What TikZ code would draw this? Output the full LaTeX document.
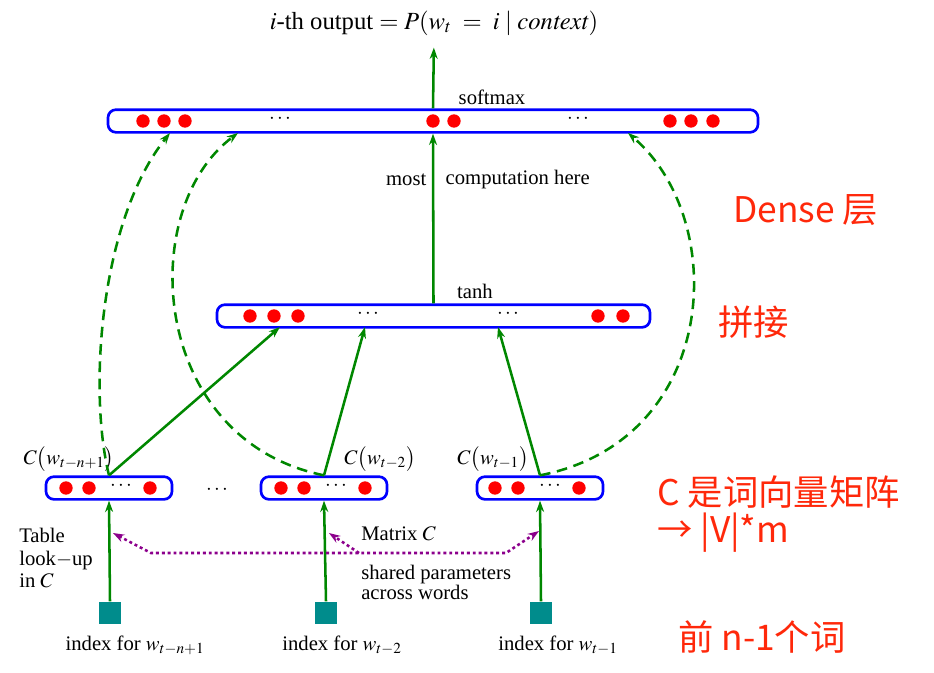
\documentclass[tikz,border=0pt]{standalone}
\usepackage{mathptmx}
\usepackage{fontspec}
\setmainfont{Liberation Serif}
\newfontfamily\cjk{Noto Sans CJK SC}
\usetikzlibrary{arrows.meta, positioning, calc}
\definecolor{layerblue}{RGB}{0,0,255}
\definecolor{linkgreen}{RGB}{0,135,0}
\definecolor{idxteal}{RGB}{0,140,140}
\definecolor{sharedpurple}{RGB}{140,0,140}
\definecolor{notered}{RGB}{255,40,10}

\begin{document}
\begin{tikzpicture}[x=0.75pt,y=-0.75pt,>={Stealth[length=8.5pt,width=6pt]},
    font=\fontsize{15.5}{18}\selectfont,
    layer/.style={draw=layerblue, line width=2pt, rounded corners=6pt,
        minimum height=17pt, inner sep=0pt},
    neuron/.style={circle, fill=red, inner sep=0pt, minimum size=10pt},
    idx/.style={fill=idxteal, inner sep=0pt, minimum size=17pt},
    link/.style={->, draw=linkgreen, line width=1.9pt},
    context/.style={->, draw=linkgreen, line width=1.9pt, dash pattern=on 8pt off 5pt},
    shared/.style={draw=sharedpurple, line width=1.9pt, dash pattern=on 2.2pt off 2.2pt},
    note/.style={text=notered, inner sep=0pt, font=\cjk\fontsize{26.5}{30}\selectfont}]
    \useasboundingbox (0,0) rectangle (934,672);
    % Layers
    \node[layer, minimum width=487.5pt] (out) at (433,121) {};
    \node[layer, minimum width=324.75pt] (hid) at (433.5,316) {};
    \node[layer, minimum width=94.5pt] (e1) at (109,488) {};
    \node[layer, minimum width=94.5pt] (e2) at (324,488) {};
    \node[layer, minimum width=94.5pt] (e3) at (540,488) {};
    % Neurons
    \foreach \x [count=\i] in {143,164,185,433,454,670,691,713}
        \node[neuron] (o\i) at (\x,121) {};
    \node (od1) at (280,119) {$\cdots$};
    \node (od2) at (578,119) {$\cdots$};
    \foreach \x [count=\i] in {250,274,298,598,623}
        \node[neuron] (h\i) at (\x,316) {};
    \node (hd1) at (368,314) {$\cdots$};
    \node (hd2) at (508,314) {$\cdots$};
    \foreach \b/\x in {e1/66, e2/281, e3/495} {
        \node[neuron] (\b n1) at (\x,488) {};
        \node[neuron] (\b n2) at (\x+23,488) {};
        \node (\b d) at (\x+55,486) {$\cdots$};
        \node[neuron] (\b n3) at (\x+84,488) {};
    }
    \node (gap) at (217,490) {$\cdots$};
    % Index squares
    \node[idx] (i1) at (110,613) {};
    \node[idx] (i2) at (326,613) {};
    \node[idx] (i3) at (541,613) {};
    % Labels
    \node[font=\fontsize{18.5}{21}\selectfont, inner sep=1pt] (title) at (434,23)
        {$i$-th output $= P(w_t \;=\; i \mid \mathit{context})$};
    \node at (492,97) {softmax};
    \node at (475,291) {tanh};
    \node[anchor=east] at (431,180) {most};
    \node[anchor=west] at (441,180) {computation here};
    \node at (69,459) {$C\bigl(w_{t-n+1}\bigr)$};
    \node at (380,459) {$C\bigl(w_{t-2}\bigr)$};
    \node at (493,459) {$C\bigl(w_{t-1}\bigr)$};
    \node (l1) at (135,645) {index for $w_{t-n+1}$};
    \node (l2) at (342,645) {index for $w_{t-2}$};
    \node (l3) at (558,645) {index for $w_{t-1}$};
    \node[anchor=west, align=left, inner sep=0pt] at (19,558) {Table\\[-1pt]look$-$up\\[-1pt]in $C$};
    \node[anchor=west, inner sep=0pt] at (361,534) {Matrix $C$};
    \node[anchor=west, align=left, inner sep=0pt] at (361,582) {shared parameters\\[-3pt]across words};
    % Notes
    \node[note, anchor=west] at (733,210) {Dense 层};
    \node[note, anchor=west] at (718,322) {拼接};
    \node[note, anchor=west] at (657,492) {C 是词向量矩阵};
    \node[note, anchor=west] at (657,533) {→ |V|*m};
    \node[note, anchor=west] at (678,637) {前 n-1个词};
    % Coordinates on the layers
    \coordinate (t1) at (280,327);
    \coordinate (t2) at (365,327);
    \coordinate (t3) at (498,327);
    \coordinate (c1) at (170,133);
    \coordinate (c2) at (238,133);
    \coordinate (c3) at (628,133);
    % Connections
    \draw[link, shorten >=8pt] (out.north) -- (title.south);
    \draw[link] (hid.north) -- (out.south);
    \draw[link] (e1.north) -- (t1);
    \draw[link] (e2.north) -- (t2);
    \draw[link] (e3.north) -- (t3);
    \draw[link] (i1.north) -- (e1.south);
    \draw[link] (i2.north) -- (e2.south);
    \draw[link] (i3.north) -- (e3.south);
    \draw[context] (e1.north) .. controls (88,390) and (100,220) .. (c1);
    \draw[context] (e2.north) .. controls (150,440) and (135,210) .. (c2);
    \draw[context] (e3.north) .. controls (720,440) and (730,220) .. (c3);
    % Shared matrix
    \coordinate (s1) at (151,553);
    \coordinate (s2) at (359,553);
    \coordinate (s3) at (506,553);
    \coordinate (m1) at (113,533);
    \coordinate (m2) at (329,533);
    \coordinate (m3) at (539,531);
    \draw[shared, <->] (m1) -- (s1) -- (s3) -- (m3);
    \draw[shared, ->] (s2) -- (m2);
\end{tikzpicture}
\end{document}
